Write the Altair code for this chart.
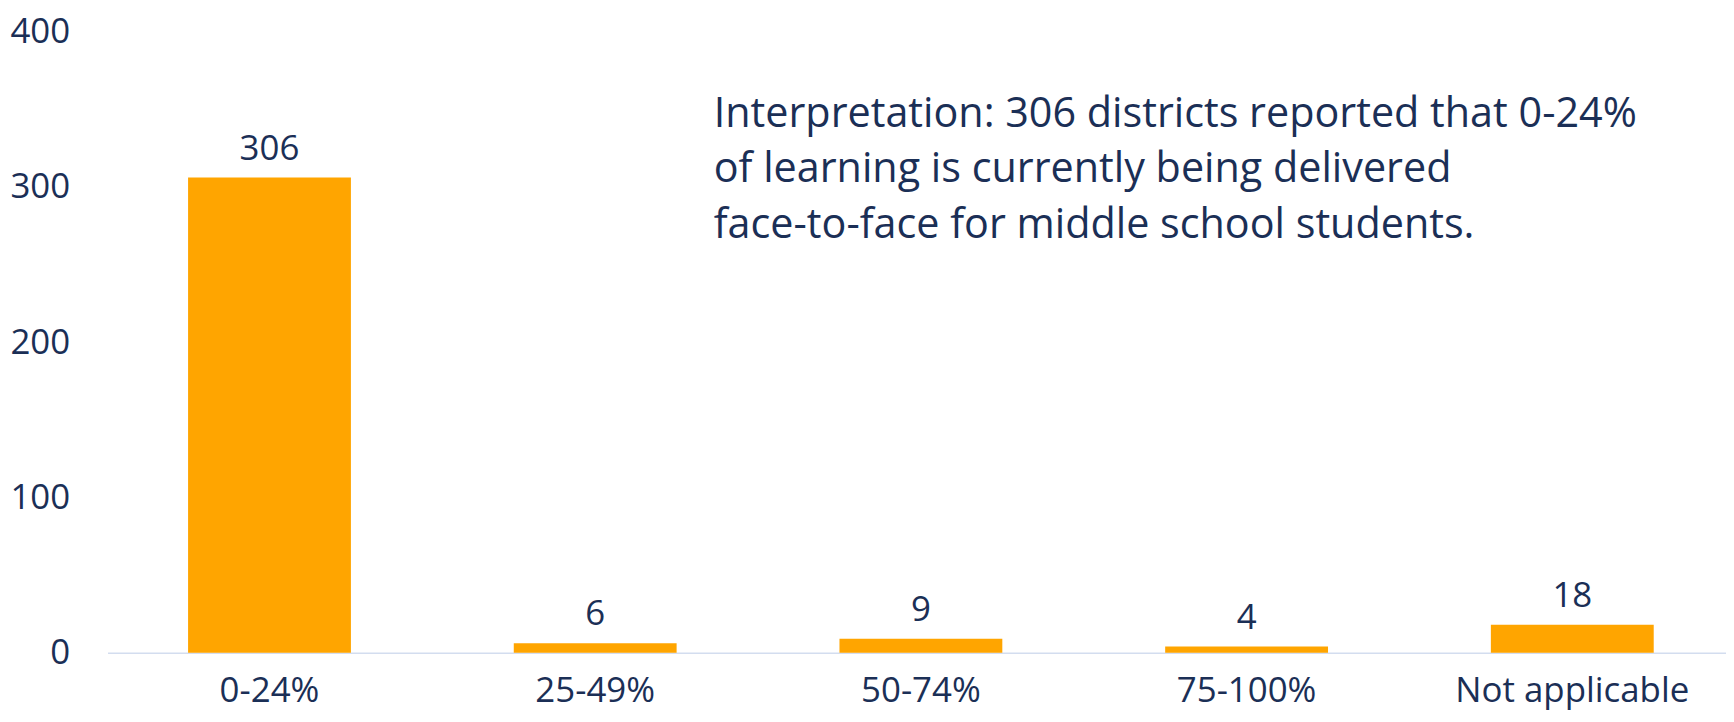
import altair as alt
import pandas as pd

categories = ["0-24%", "25-49%", "50-74%", "75-100%", "Not applicable"]
counts = [306, 6, 9, 4, 18]
y_ticks = [0, 100, 200, 300, 400]
note_lines = [
    "Interpretation: 306 districts reported that 0-24%",
    "of learning is currently being delivered",
    "face-to-face for middle school students.",
]

df = pd.DataFrame({"category": categories, "count": counts})

FONT = "Open Sans"
TXT = "#1b2f56"

x_scale = alt.Scale(type="band", paddingInner=0.5, paddingOuter=0.2346, align=0.527)

x = alt.X(
    "category:N",
    sort=categories,
    scale=x_scale,
    axis=alt.Axis(
        title=None, labelAngle=0, ticks=False, tickSize=0, labelPadding=21,
        domainColor="#d3ddef", domainWidth=1.5, labelFontSize=35,
        labelFont=FONT, labelColor=TXT, grid=False, labelBaseline="top",
        labelLimit=0,
    ),
)
y = alt.Y(
    "count:Q",
    scale=alt.Scale(domain=[0, 400], nice=False),
    axis=alt.Axis(
        title=None, values=y_ticks, domain=False, ticks=False, tickSize=0,
        grid=False, labelPadding=38, labelFontSize=35, labelFont=FONT,
        labelColor=TXT,
    ),
)

base = alt.Chart(df).encode(x=x, y=y)
bars = base.mark_bar(color="#FFA500")
labels = base.mark_text(
    font=FONT, fontSize=35, color=TXT, baseline="alphabetic", dy=-18
).encode(text="count:Q")

note = alt.Chart(pd.DataFrame({"t": [note_lines]})).mark_text(
    font=FONT, fontSize=41.5, color=TXT, align="left", baseline="alphabetic",
    lineHeight=56,
).encode(x=alt.value(609), y=alt.value(95.5), text="t")

chart = (bars + labels + note).properties(
    width=1626, height=624,
    autosize=alt.AutoSizeParams(type="none"),
    padding={"left": 100, "top": 22, "right": 0, "bottom": 57},
    background="white",
).configure_view(strokeWidth=0)

chart.save("out.html", embed_options={"renderer": "svg", "actions": False})
